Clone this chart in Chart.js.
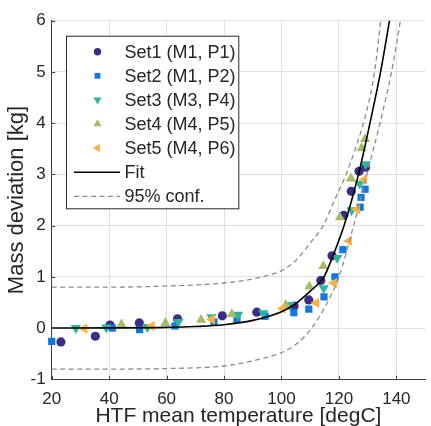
<!DOCTYPE html>
<html>
<head>
<meta charset="utf-8">
<script src="https://cdn.jsdelivr.net/npm/chart.js@4/dist/chart.umd.min.js"></script>
<style>
  html, body { margin: 0; padding: 0; background: #fff; }
</style>
</head>
<body>
<canvas id="grafico" width="431" height="426"></canvas>
<script>
// Medições por conjunto (temperatura média do HTF x desvio de massa)
const set1X = [23.2, 35.2, 40.3, 50.5, 63.8, 79.4, 91.4, 104.4, 109.5, 113.7, 117.6, 121.7, 124.3, 127.0, 129.3];
const set1Y = [-0.27, -0.16, 0.06, 0.10, 0.18, 0.24, 0.31, 0.43, 0.55, 0.93, 1.41, 2.20, 2.67, 3.06, 3.14];

const set2X = [20.0, 41.1, 50.6, 62.9, 76.5, 84.5, 94.3, 104.3, 109.5, 114.8, 118.6, 121.4, 127.4, 127.7, 129.1];
const set2Y = [-0.26, 0.00, -0.03, 0.04, 0.12, 0.17, 0.23, 0.30, 0.37, 0.61, 1.00, 1.53, 2.36, 2.55, 2.71];

const set3X = [28.4, 39.0, 53.3, 64.1, 75.6, 84.9, 93.7, 102.9, 114.7, 119.4, 124.4, 127.2, 129.3];
const set3Y = [0.00, 0.01, 0.02, 0.12, 0.21, 0.26, 0.29, 0.45, 0.78, 1.37, 2.30, 2.82, 3.20];

const set4X = [44.3, 59.6, 72.0, 82.7, 101.5, 109.7, 114.6, 120.3, 124.2, 127.9, 129.1];
const set4Y = [0.07, 0.10, 0.16, 0.27, 0.45, 0.81, 1.21, 2.16, 2.92, 3.51, 3.69];

const set5X = [31.4, 54.8, 75.8, 100.4, 112.1, 118.3, 123.5, 126.3, 128.8];
const set5Y = [-0.01, 0.04, 0.17, 0.38, 0.49, 0.88, 1.70, 2.32, 2.90];

// Curva ajustada e limites de confiança de 95%
const fitX = [20, 40, 60, 70, 80, 90, 100, 105, 110, 114.8, 117.5, 121.8, 126.8, 130.8, 134.5, 137.6, 138.5];
const fitY = [0, 0.003, 0.013, 0.03, 0.065, 0.15, 0.32, 0.48, 0.72, 1.0, 1.35, 2.0, 3.0, 4.0, 5.0, 6.0, 6.3];

const confSupX = [20, 40, 60, 80, 90, 100, 105, 110, 114.5, 118.5, 122.5, 126, 129, 132.4, 135.3];
const confSupY = [0.80, 0.80, 0.82, 0.88, 0.96, 1.12, 1.32, 1.66, 2.0, 2.5, 3.0, 3.55, 4.1, 5.0, 6.4];

const confInfX = [20, 40, 60, 80, 90, 100, 105, 110.5, 115, 120, 125, 129.7, 134.3, 138.3, 141.4, 142.5];
const confInfY = [-0.80, -0.80, -0.79, -0.74, -0.64, -0.48, -0.32, 0.0, 0.4, 1.0, 1.98, 3.0, 4.0, 5.0, 6.0, 6.4];

const xTicks = [20, 40, 60, 80, 100, 120, 140];
const yTicks = [-1, 0, 1, 2, 3, 4, 5, 6];

const nomes = ['Set1 (M1, P1)', 'Set2 (M1, P2)', 'Set3 (M3, P4)', 'Set4 (M4, P5)', 'Set5 (M4, P6)', 'Fit', '95% conf.'];

const pares = (xs, ys) => xs.map((x, i) => ({ x: x, y: ys[i] }));

const FONTE = "'Liberation Sans', Arial, sans-serif";
const COR_TEXTO = '#262626';

function serie(label, xs, ys, cor, estilo, rot, raio, ordem) {
  return {
    label: label,
    data: pares(xs, ys),
    pointStyle: estilo,
    rotation: rot,
    pointRadius: raio,
    pointBackgroundColor: cor,
    pointBorderColor: cor,
    pointBorderWidth: 0,
    showLine: false,
    clip: false,
    order: ordem
  };
}

function linha(label, xs, ys, cor, tracejado, largura) {
  return {
    label: label,
    data: pares(xs, ys),
    showLine: true,
    borderColor: cor,
    borderWidth: largura,
    borderDash: tracejado,
    pointRadius: 0,
    cubicInterpolationMode: 'monotone',
    order: 0
  };
}

const datasets = [
  serie(nomes[0], set1X, set1Y, '#3b2c86', 'circle', 0, 4.6, 5),
  serie(nomes[1], set2X, set2Y, '#1278e0', 'rect', 0, 5.1, 4),
  serie(nomes[2], set3X, set3Y, '#2db59e', 'triangle', 180, 5.9, 3),
  serie(nomes[3], set4X, set4Y, '#a2bf68', 'triangle', 0, 5.9, 2),
  serie(nomes[4], set5X, set5Y, '#fbb33d', 'triangle', -90, 5.9, 1),
  linha(nomes[5], fitX, fitY, '#000000', [], 1.6),
  linha(nomes[6], confSupX, confSupY, '#8c8c8c', [5, 3.5], 1.3),
  Object.assign(linha('', confInfX, confInfY, '#8c8c8c', [5, 3.5], 1.3), { semLegenda: true })
];

// Marcas curtas para dentro nos eixos esquerdo e inferior
const marcasEixo = {
  id: 'marcasEixo',
  afterDatasetsDraw(chart) {
    const ctx = chart.ctx;
    const { x, y } = chart.scales;
    const area = chart.chartArea;
    ctx.save();
    ctx.strokeStyle = '#404040';
    ctx.lineWidth = 1;
    ctx.beginPath();
    yTicks.forEach(v => {
      const py = Math.round(y.getPixelForValue(v)) + 0.5;
      ctx.moveTo(area.left, py);
      ctx.lineTo(area.left + 3.5, py);
    });
    xTicks.forEach(v => {
      const px = Math.round(x.getPixelForValue(v)) + 0.5;
      ctx.moveTo(px, area.bottom);
      ctx.lineTo(px, area.bottom - 3.5);
    });
    ctx.stroke();
    ctx.restore();
  }
};

// Legenda desenhada dentro da área do gráfico, com moldura
const legendaBox = {
  id: 'legendaBox',
  afterDraw(chart) {
    const ctx = chart.ctx;
    const bx = 66, by = 35.7, bw = 173.3, bh = 173.6;
    ctx.save();
    ctx.fillStyle = '#ffffff';
    ctx.fillRect(bx, by, bw, bh);
    ctx.strokeStyle = '#262626';
    ctx.lineWidth = 1;
    ctx.strokeRect(bx + 0.5, by + 0.5, bw - 1, bh - 1);

    ctx.font = '18px ' + FONTE;
    ctx.fillStyle = COR_TEXTO;
    ctx.textBaseline = 'middle';
    ctx.textAlign = 'left';

    const linhas = chart.data.datasets.filter(d => !d.semLegenda);
    linhas.forEach((ds, i) => {
      const cy = by + 16 + i * 24.1;
      if (ds.showLine) {
        ctx.save();
        ctx.strokeStyle = ds.borderColor;
        ctx.lineWidth = ds.borderWidth;
        ctx.setLineDash(ds.borderDash || []);
        ctx.beginPath();
        ctx.moveTo(74, cy);
        ctx.lineTo(120, cy);
        ctx.stroke();
        ctx.restore();
      } else {
        ctx.fillStyle = ds.pointBackgroundColor;
        ctx.strokeStyle = ds.pointBorderColor;
        Chart.helpers.drawPoint(ctx, {
          pointStyle: ds.pointStyle,
          rotation: ds.rotation,
          radius: ds.pointRadius * 0.8,
          borderWidth: 0
        }, 97.5, cy);
        ctx.fillStyle = COR_TEXTO;
      }
      ctx.fillText(ds.label, 124.5, cy + 1);
    });
    ctx.restore();
  }
};

new Chart(document.getElementById('grafico'), {
  type: 'scatter',
  data: { datasets: datasets },
  options: {
    responsive: false,
    animation: false,
    layout: { padding: { top: 20.7, right: 0, left: 0, bottom: 0 } },
    plugins: {
      legend: { display: false },
      tooltip: { enabled: false }
    },
    scales: {
      x: {
        type: 'linear',
        min: 20,
        max: 150,
        afterBuildTicks: scale => { scale.ticks = xTicks.map(v => ({ value: v })); },
        afterFit: scale => {
          scale.height = 46.7;
          scale.paddingLeft = 0;
          scale.paddingRight = 0;
        },
        grid: { color: '#e0e0e0', lineWidth: 1, drawTicks: false },
        border: { color: '#404040', width: 1 },
        ticks: {
          padding: 10,
          maxRotation: 0,
          color: COR_TEXTO,
          font: { family: FONTE, size: 17 }
        },
        title: {
          display: true,
          text: 'HTF mean temperature [degC]',
          color: COR_TEXTO,
          font: { family: FONTE, size: 21 },
          padding: { top: 0, bottom: -3 }
        }
      },
      y: {
        type: 'linear',
        min: -1,
        max: 6,
        afterBuildTicks: scale => { scale.ticks = yTicks.map(v => ({ value: v })); },
        afterFit: scale => {
          scale.width = 51.7;
          scale.paddingTop = 0;
          scale.paddingBottom = 0;
        },
        grid: { color: '#e0e0e0', lineWidth: 1, drawTicks: false },
        border: { color: '#404040', width: 1 },
        ticks: {
          padding: 6,
          color: COR_TEXTO,
          font: { family: FONTE, size: 17 }
        },
        title: {
          display: true,
          text: 'Mass deviation [kg]',
          color: COR_TEXTO,
          font: { family: FONTE, size: 22 },
          padding: { top: 4, bottom: 0 }
        }
      }
    }
  },
  plugins: [marcasEixo, legendaBox]
});
</script>
</body>
</html>
